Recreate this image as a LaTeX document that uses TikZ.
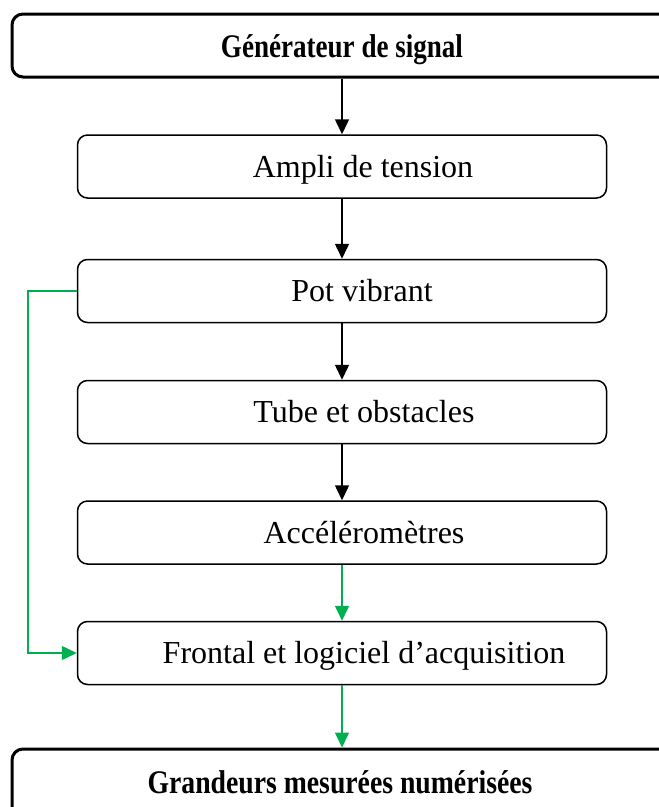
\documentclass[tikz,border=0pt]{standalone}
\usepackage{fontspec}
\setmainfont{Liberation Serif}
\usetikzlibrary{arrows.meta}
\definecolor{grn}{HTML}{00B050}
\begin{document}
\begin{tikzpicture}[x=1pt,y=-1pt,
  smallbox/.style={draw, rounded corners=10pt, line width=1.5pt, minimum width=529pt, minimum height=63pt, inner sep=0pt},
  bigbox/.style={draw, rounded corners=11pt, line width=3pt, minimum width=708pt, inner sep=0pt},
  lbl/.style={font=\fontsize{32}{38}\selectfont, inner sep=0pt, anchor=base},
  blbl/.style={font=\fontsize{33}{38}\selectfont\bfseries, inner sep=0pt, anchor=base},
  arr/.style={-{Triangle[length=15pt,width=14pt]}, line width=1.5pt},
  garr/.style={arr, draw=grn}
]
\useasboundingbox (0,0) rectangle (659,807);
\clip (0,0) rectangle (659,807);
\fill[white] (0,0) rectangle (659,807);
% big boxes
\node[bigbox, minimum height=63pt] (gen) at (366,45.5) {};
\node[bigbox, minimum height=90pt] (grand) at (366,794) {};
% small boxes
\node[smallbox] (ampli) at (342,166.5) {};
\node[smallbox] (pot) at (342,291) {};
\node[smallbox] (tube) at (342,412) {};
\node[smallbox] (acc) at (342,532.5) {};
\node[smallbox] (front) at (342,653) {};
% texts
\node[blbl] (gent) at (342,57) {\scalebox{0.82}[1]{Générateur de signal}};
\node[blbl] (grandt) at (340,793) {\scalebox{0.84}[1]{Grandeurs mesurées numérisées}};
\node[lbl] (amplit) at (363,177) {Ampli de tension};
\node[lbl] (pott) at (362,301.5) {Pot vibrant};
\node[lbl] (tubet) at (364,422.5) {Tube et obstacles};
\node[lbl] (acct) at (364,543) {Accéléromètres};
\node[lbl] (frontt) at (364,663.5) {Frontal et logiciel d’acquisition};
% connectors
\draw[arr] (ampli.north |- gen.south) -- (ampli.north);
\draw[arr] (ampli.south) -- (pot.north);
\draw[arr] (pot.south) -- (tube.north);
\draw[arr] (tube.south) -- (acc.north);
\draw[garr] (acc.south) -- (front.north);
\draw[garr] (front.south) -- (front.south |- grand.north);
\draw[garr] (pot.west) -- ++(-49,0) |- (front.west);
\end{tikzpicture}
\end{document}
